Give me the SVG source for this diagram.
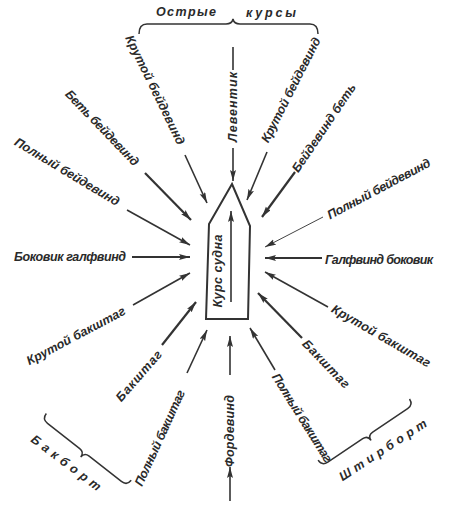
<svg xmlns="http://www.w3.org/2000/svg" width="450" height="509" viewBox="0 0 450 509">
<style>
text{font-family:"Liberation Sans",Arial,sans-serif;font-weight:bold;font-style:italic;font-size:12.5px;fill:#2a2a2a;text-anchor:middle;dominant-baseline:central}
.a{stroke:#333;stroke-width:1.6;fill:none;marker-end:url(#ah)}
.t{stroke:#333;stroke-width:2.2;fill:none;marker-end:url(#ah)}
.n{stroke:#444;stroke-width:1;fill:none;marker-end:url(#ah)}
.l{stroke:#333;stroke-width:1.6;fill:none}
.b{stroke:#333;stroke-width:1.5;fill:none}
</style>
<defs>
<marker id="ah" markerUnits="userSpaceOnUse" markerWidth="12" markerHeight="7" refX="11" refY="3" orient="auto">
<path d="M0,0 L11,3 L0,6 L2,3 z" fill="#333"/>
</marker>
</defs>
<rect width="450" height="509" fill="#fff"/>

<g id="ship">
<polygon points="232,184 250,226 248,319 206,319 209,224" fill="none" stroke="#333" stroke-width="2"/>
<line class="a" x1="231" y1="302" x2="231" y2="211"/>
<text transform="translate(218,271) rotate(-90)" textLength="73" lengthAdjust="spacing">Курс судна</text>
</g>

<g id="braces">
<path class="b" d="M139,34 Q139,24 147,24 L226,24 Q232,24 233,19 Q234,24 240,24 L310,24 Q318,24 318,34"/>
<text x="186" y="12" textLength="60" lengthAdjust="spacing">Острые</text>
<text x="271" y="13" textLength="50" lengthAdjust="spacing">курсы</text>
<path class="b" transform="translate(42,419) rotate(38.2)" d="M0,-7 Q0,0 7,0 L48,0 Q54,0 54,6 Q54,0 60,0 L101,0 Q108,0 108,-7"/>
<text transform="translate(66,463) rotate(37)" textLength="84" lengthAdjust="spacing">Бакборт</text>
<path class="b" transform="translate(322,466) rotate(-33.8)" d="M0,-7 Q0,0 7,0 L49,0 Q55,0 55,6 Q55,0 61,0 L103,0 Q110,0 110,-7"/>
<text transform="translate(383,450) rotate(-33)" textLength="102" lengthAdjust="spacing">Штирборт</text>
</g>

<g id="connectors">
<line class="l" x1="233" y1="47" x2="233" y2="70"/>
<line class="a" x1="233" y1="148" x2="233" y2="181"/>
<line class="a" x1="230" y1="375" x2="230" y2="336"/>
<line class="a" x1="230" y1="501" x2="230" y2="467"/>
<line class="a" x1="185" y1="155" x2="207" y2="203"/>
<line class="t" x1="145" y1="173" x2="191" y2="220"/>
<line class="a" x1="127" y1="210" x2="190" y2="245"/>
<line class="t" x1="132" y1="257" x2="190" y2="257"/>
<line class="a" x1="133" y1="305" x2="190" y2="273"/>
<line class="t" x1="162" y1="345" x2="196" y2="302"/>
<line class="a" x1="187" y1="373" x2="207" y2="330"/>
<line class="a" x1="267" y1="152" x2="247" y2="200"/>
<line class="t" x1="295" y1="172" x2="262" y2="217"/>
<line class="n" x1="323" y1="217" x2="265" y2="247"/>
<line class="t" x1="322" y1="258" x2="265" y2="258"/>
<line class="a" x1="328" y1="307" x2="265" y2="272"/>
<line class="t" x1="302" y1="338" x2="258" y2="293"/>
<line class="a" x1="275" y1="370" x2="250" y2="328"/>
</g>

<g id="labels">
<text id="leventik" transform="translate(233,107) rotate(-90)" textLength="70" lengthAdjust="spacing">Левентик</text>
<text id="fordevind" transform="translate(230,431) rotate(-90)" textLength="72" lengthAdjust="spacing">Фордевинд</text>
<text id="kb-l" transform="translate(155,90) rotate(64)" textLength="120" lengthAdjust="spacing">Крутой  бейдевинд</text>
<text id="bb-l" transform="translate(102,128) rotate(46)" textLength="100" lengthAdjust="spacing">Беть бейдевинд</text>
<text id="pb-l" transform="translate(67,172) rotate(31)" textLength="120" lengthAdjust="spacing">Полный бейдевинд</text>
<text id="bg-l" x="70" y="257" textLength="112" lengthAdjust="spacing">Боковик галфвинд</text>
<text id="kbt-l" transform="translate(76,336) rotate(-28)" textLength="110" lengthAdjust="spacing">Крутой бакштаг</text>
<text id="bt-l" transform="translate(139,376) rotate(-49)" textLength="63" lengthAdjust="spacing">Бакштаг</text>
<text id="pbt-l" transform="translate(160,438) rotate(-65.5)" textLength="104" lengthAdjust="spacing">Полный бакштаг</text>
<text id="kb-r" transform="translate(291,90) rotate(-63)" textLength="116" lengthAdjust="spacing">Крутой бейдевинд</text>
<text id="bb-r" transform="translate(324,128) rotate(-56)" textLength="104" lengthAdjust="spacing">Бейдевинд беть</text>
<text id="pb-r" transform="translate(379,189) rotate(-28)" textLength="115" lengthAdjust="spacing">Полный бейдевинд</text>
<text id="gb-r" x="379" y="260" textLength="108" lengthAdjust="spacing">Галфвинд боковик</text>
<text id="kbt-r" transform="translate(381,336) rotate(30)" textLength="112" lengthAdjust="spacing">Крутой бакштаг</text>
<text id="bt-r" transform="translate(326,364) rotate(46)" textLength="62" lengthAdjust="spacing">Бакштаг</text>
<text id="pbt-r" transform="translate(302,418) rotate(58)" textLength="102" lengthAdjust="spacing">Полный бакштаг</text>
</g>
</svg>
